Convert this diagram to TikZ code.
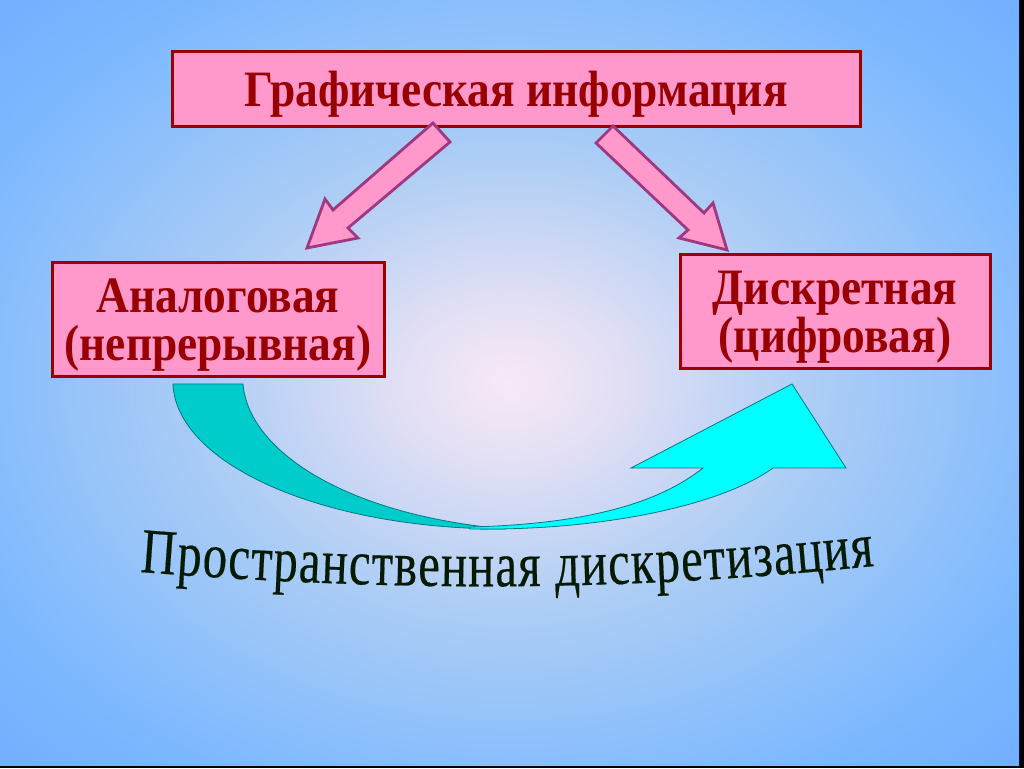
\documentclass[tikz,border=0pt]{standalone}
\usepackage{fontspec}
\setmainfont{Liberation Serif}
\newfontfamily\arcfont[FakeStretch=0.76,FakeBold=0.3]{Liberation Serif}
\newfontfamily\boxfont[FakeStretch=0.89]{Liberation Serif}
\usetikzlibrary{decorations.text}
\definecolor{boxfill}{RGB}{255,153,204}
\definecolor{boxred}{RGB}{153,0,0}
\definecolor{arrline}{RGB}{158,56,128}
\definecolor{tealdark}{RGB}{0,204,204}
\definecolor{cyanb}{RGB}{0,255,255}
\definecolor{tealline}{RGB}{0,120,130}
\definecolor{arcgreen}{RGB}{4,26,4}
\definecolor{bga}{RGB}{248,232,246}
\definecolor{bgb}{RGB}{228,224,245}
\definecolor{bgc}{RGB}{172,205,245}
\definecolor{bgd}{RGB}{124,184,255}
\definecolor{bge}{RGB}{100,158,255}
\definecolor{bgf}{RGB}{90,148,255}
\pgfdeclareradialshading{bgshade}{\pgfpoint{0bp}{0bp}}{color(0bp)=(bga); color(5bp)=(bgb); color(15bp)=(bgc); color(29bp)=(bgd); color(46bp)=(bge); color(75bp)=(bgf)}
\tikzset{
  infobox/.style={draw=boxred, line width=3pt, fill=boxfill, inner sep=0pt},
  boxtext/.style={text=boxred, font=\boxfont\bfseries\fontsize{51}{48}\selectfont,
    align=center, inner sep=0pt},
  blockarrow/.style={fill=boxfill, draw=arrline, line width=2.8pt, line join=miter},
  darkband/.style={fill=tealdark, draw=tealline, line width=0.8pt},
  brightband/.style={fill=cyanb, draw=tealline, line width=0.8pt, line join=miter}
}
\begin{document}
\begin{tikzpicture}[x=1pt,y=1pt]
\useasboundingbox (0,0) rectangle (1024,768);
\fill[black] (0,0) rectangle (1024,768);
\shade[shading=bgshade] (0,3) rectangle (1019,768);

\node[infobox, minimum width=688, minimum height=75] (gi) at (516,678.5) {};
\node[boxtext] (gi-t) at ([yshift=-5]gi.center) {Графическая информация};
\node[infobox, minimum width=332, minimum height=114] (an) at (218,448) {};
\node[boxtext] (an-t) at ([yshift=-5]an.center) {Аналоговая\\(непрерывная)};
\node[infobox, minimum width=310, minimum height=114] (di) at (835,456) {};
\node[boxtext] (di-t) at ([yshift=-5]di.center) {Дискретная\\(цифровая)};

\draw[blockarrow] (433,645) -- (333,558) -- (325,569) -- (307,520) -- (358,530) -- (348,540) -- (450,626) -- cycle;
\draw[blockarrow] (613,642) -- (704,555) -- (713,565) -- (727,518) -- (679,530) -- (688,538) -- (596,625) -- cycle;

\draw[darkband] (173,384) .. controls (176,305) and (320,239) .. (505,239)
   .. controls (340,254) and (248,320) .. (243,384) -- cycle;
\draw[brightband] (470,239) .. controls (600,237) and (720,262) .. (773,300)
   -- (846,300) -- (792,384) -- (631,300) -- (703,300)
   .. controls (660,266) and (590,244) .. (470,241) -- cycle;

\path[decorate, decoration={text along path, text color=arcgreen,
   text={|\arcfont\fontsize{64}{64}\selectfont|Пространственная дискретизация},
   text align=fit to path}]
   (140,196) .. controls (400,176) and (620,176) .. (874,202);
\end{tikzpicture}
\end{document}
